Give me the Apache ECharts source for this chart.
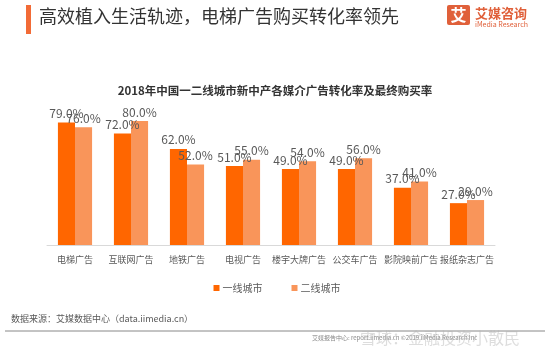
<!DOCTYPE html>
<html><head><meta charset="utf-8">
<script src="https://cdn.jsdelivr.net/npm/echarts@6/dist/echarts.min.js"></script>
<style>html,body{margin:0;padding:0;background:#fff}#c{width:554px;height:349px}</style>
</head><body><div id="c"></div>
<script>
const categories = ['电梯广告','互联网广告','地铁广告','电视广告','楼宇大牌广告','公交车广告','影院映前广告','报纸杂志广告'];
const tier1 = [79.0, 72.0, 62.0, 51.0, 49.0, 49.0, 37.0, 27.0];
const tier2 = [76.0, 80.0, 52.0, 55.0, 54.0, 56.0, 41.0, 29.0];
const seriesNames = ['一线城市','二线城市'];
const headerTitle = '高效植入生活轨迹，电梯广告购买转化率领先';
const chartTitle = '2018年中国一二线城市新中产各媒介广告转化率及最终购买率';
const sourceText = '数据来源：艾媒数据中心（data.iimedia.cn）';

const font = '"Noto Sans CJK SC","Noto Sans",sans-serif';
const chart = echarts.init(document.getElementById('c'), null, {renderer:'canvas'});
const labelCfg = {show:true, position:'top', distance:3, color:'#595959', fontSize:12, fontFamily:font, formatter:p=>p.value.toFixed(1)+'%'};
chart.setOption({
  animation:false,
  textStyle:{fontFamily:font},
  title:{text:chartTitle, left:270, top:80, textAlign:'center',
    textStyle:{fontSize:11.5, fontWeight:'bold', color:'#333', fontFamily:font}},
  legend:{data:seriesNames, left:'center', top:278, itemWidth:6, itemHeight:6, itemGap:29,
    icon:'rect', textStyle:{fontSize:10, color:'#595959', fontFamily:font, padding:[0,0,0,-2]}},
  grid:{left:47, right:59, top:90, bottom:104, containLabel:false},
  xAxis:{type:'category', data:categories,
    axisLine:{lineStyle:{color:'#d9d9d9'}}, axisTick:{show:false},
    axisLabel:{color:'#595959', fontSize:9, margin:10, interval:0, fontFamily:font}},
  yAxis:{type:'value', min:0, max:100, show:false, splitLine:{show:false}},
  series:[
    {name:seriesNames[0], type:'bar', data:tier1, barGap:'0%', barCategoryGap:'39%',
      itemStyle:{color:'#FF6600'}, label:labelCfg},
    {name:seriesNames[1], type:'bar', data:tier2,
      itemStyle:{color:'#F9955A'}, label:labelCfg}
  ],
  graphic:[
    {type:'rect', shape:{x:26, y:5, width:5, height:29}, style:{fill:'#F26B36'}},
    {type:'text', left:39, top:7, style:{text:headerTitle, fontSize:18, fill:'#333', fontFamily:font}},
    {type:'rect', shape:{x:447, y:5, width:23, height:20, r:2}, style:{fill:'#E0603A'}},
    {type:'text', x:458.5, y:15, style:{text:'艾', fontSize:16, fontWeight:'bold', fill:'#fff', align:'center', verticalAlign:'middle', fontFamily:font}},
    {type:'text', x:475, y:13, style:{text:'艾媒咨询', fontSize:13, fontWeight:'bold', fill:'#E0603A', verticalAlign:'middle', fontFamily:font}},
    {type:'text', x:475, y:24, style:{text:'iMedia Research', fontSize:7, fill:'#E0603A', verticalAlign:'middle', fontFamily:font}},
    {type:'text', x:11, y:319, style:{text:sourceText, fontSize:9, fill:'#595959', verticalAlign:'middle', fontFamily:font}},
    {type:'line', shape:{x1:5, y1:331, x2:545, y2:331}, style:{stroke:'#888', lineWidth:1}},
    {type:'text', x:312, y:338, style:{text:'艾媒报告中心: report.iimedia.cn ©2019 iiMedia Research Inc', fontSize:6, fill:'#888', verticalAlign:'middle', fontFamily:font}},
    {type:'text', x:360, y:338, style:{text:'雪球：金融投资小散民', fontSize:16, fill:'rgba(180,180,180,0.45)', verticalAlign:'middle', fontFamily:font}}
  ]
});
</script></body></html>
